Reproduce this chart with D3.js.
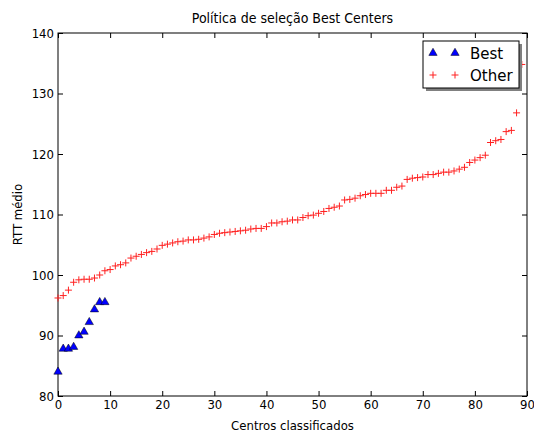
<!DOCTYPE html>
<html>
<head>
<meta charset="utf-8">
<script src="https://cdn.jsdelivr.net/npm/d3@7"></script>
<style>
  body { margin: 0; background: #fff; }
  text { font-family: "DejaVu Sans", sans-serif; }
  .cond { font-family: "DejaVu Sans Condensed", "DejaVu Sans", sans-serif; font-stretch: condensed; }
</style>
</head>
<body>
<div id="container"></div>
<script>
// Best centers (rank 0..9)
var bestValues = [84.0, 87.8, 87.8, 88.1, 90.0, 90.6, 92.2, 94.3, 95.5, 95.5];

// Other centers (rank 0..89)
var otherValues = [
  96.2, 96.6, 97.5, 98.8, 99.2, 99.3, 99.3, 99.5, 100.0, 100.7,
  100.9, 101.5, 101.7, 102.0, 102.8, 103.1, 103.4, 103.7, 103.9, 104.3,
  104.9, 105.1, 105.3, 105.5, 105.6, 105.8, 105.8, 105.9, 106.1, 106.3,
  106.7, 106.9, 107.0, 107.1, 107.2, 107.3, 107.4, 107.6, 107.7, 107.7,
  108.0, 108.6, 108.6, 108.8, 108.9, 109.1, 109.1, 109.5, 109.8, 109.9,
  110.2, 110.5, 111.0, 111.2, 111.4, 112.4, 112.5, 112.7, 113.1, 113.3,
  113.5, 113.5, 113.5, 114.0, 114.0, 114.5, 114.7, 115.8, 116.0, 116.1,
  116.2, 116.6, 116.6, 116.8, 117.0, 117.0, 117.2, 117.5, 117.8, 118.6,
  119.0, 119.4, 119.8, 121.9, 122.2, 122.4, 123.7, 123.9, 126.8, 134.8
];

var xTicks = [0, 10, 20, 30, 40, 50, 60, 70, 80, 90];
var yTicks = [80, 90, 100, 110, 120, 130, 140];
var seriesNames = ["Best", "Other"];

var W = 534, H = 432;
var margin = {left: 58, right: 7, top: 33, bottom: 36};
var iw = W - margin.left - margin.right, ih = H - margin.top - margin.bottom;

var svg = d3.select("#container").append("svg")
  .attr("width", W).attr("height", H);

var g = svg.append("g").attr("transform", "translate(" + margin.left + "," + margin.top + ")");

var x = d3.scaleLinear().domain([0, 90]).range([0, iw]);
var y = d3.scaleLinear().domain([80, 140]).range([ih, 0]);

// axes with inward ticks on all four sides
function styleAxis(sel) {
  sel.select(".domain").remove();
  sel.selectAll(".tick line").attr("stroke", "#000");
  sel.selectAll("text").attr("fill", "#000").attr("class", "cond").attr("font-size", 13);
}
g.append("g").attr("transform", "translate(0," + ih + ")")
  .call(d3.axisBottom(x).tickValues(xTicks).tickSizeInner(-5).tickSizeOuter(0).tickPadding(4))
  .call(styleAxis);
g.append("g")
  .call(d3.axisTop(x).tickValues(xTicks).tickSizeInner(-5).tickSizeOuter(0).tickFormat(""))
  .call(styleAxis);
g.append("g")
  .call(d3.axisLeft(y).tickValues(yTicks).tickSizeInner(-5).tickSizeOuter(0).tickPadding(4))
  .call(styleAxis);
g.append("g").attr("transform", "translate(" + iw + ",0)")
  .call(d3.axisRight(y).tickValues(yTicks).tickSizeInner(-5).tickSizeOuter(0).tickFormat(""))
  .call(styleAxis);

g.append("rect").attr("width", iw).attr("height", ih)
  .attr("fill", "none").attr("stroke", "#000").attr("stroke-width", 1);

// Other: red plus
var plusPath = "M-3.5,0H3.5M0,-3.5V3.5";
g.selectAll(".other").data(otherValues).enter().append("path")
  .attr("class", "other")
  .attr("transform", function(d, i) { return "translate(" + x(i) + "," + y(d) + ")"; })
  .attr("d", plusPath).attr("stroke", "#ff2020").attr("stroke-width", 1).attr("fill", "none");

// Best: blue triangles
var tri = d3.symbol().type(d3.symbolTriangle).size(30);
g.selectAll(".best").data(bestValues).enter().append("path")
  .attr("class", "best")
  .attr("transform", function(d, i) { return "translate(" + x(i) + "," + y(d) + ")"; })
  .attr("d", tri()).attr("fill", "#0000ff").attr("stroke", "#000").attr("stroke-width", 0.5);

// title & labels
svg.append("text").attr("class", "cond").attr("x", margin.left + iw / 2).attr("y", 23)
  .attr("text-anchor", "middle").attr("font-size", 14).text("Política de seleção Best Centers");
svg.append("text").attr("class", "cond").attr("x", margin.left + iw / 2).attr("y", 430)
  .attr("text-anchor", "middle").attr("font-size", 13).text("Centros classificados");
svg.append("text").attr("class", "cond")
  .attr("transform", "translate(22," + (margin.top + ih / 2) + ") rotate(-90)")
  .attr("text-anchor", "middle").attr("font-size", 13).text("RTT médio");

// legend
var lg = svg.append("g").attr("transform", "translate(423,41)");
lg.append("rect").attr("x", 3).attr("y", 3).attr("width", 96).attr("height", 47).attr("fill", "#808080");
lg.append("rect").attr("width", 96).attr("height", 47).attr("fill", "#fff").attr("stroke", "#000");
seriesNames.forEach(function(name, k) {
  var yy = 12 + k * 22;
  [10, 32].forEach(function(xx) {
    if (k === 0) {
      lg.append("path").attr("transform", "translate(" + xx + "," + yy + ")")
        .attr("d", tri()).attr("fill", "#0000ff").attr("stroke", "#000").attr("stroke-width", 0.5);
    } else {
      lg.append("path").attr("transform", "translate(" + xx + "," + yy + ")")
        .attr("d", plusPath).attr("stroke", "#ff2020").attr("fill", "none");
    }
  });
  lg.append("text").attr("x", 47).attr("y", yy + 5.5).attr("font-size", 15).text(name);
});
</script>
</body>
</html>
